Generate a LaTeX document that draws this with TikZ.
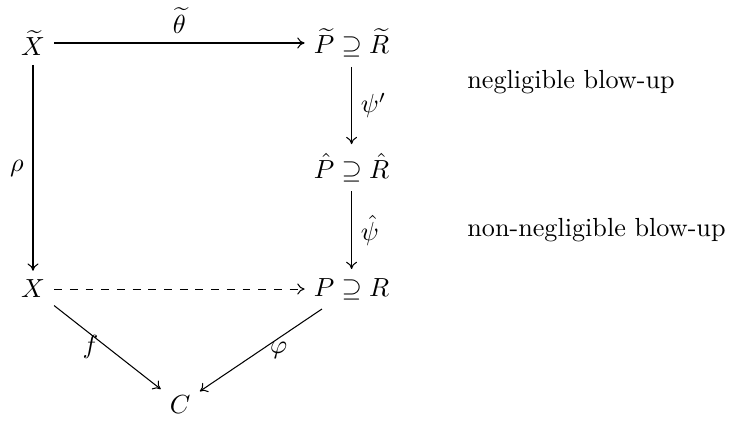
\documentclass[tikz,border=0pt]{standalone}
\usepackage{amsmath}
\usetikzlibrary{arrows.meta}
\begin{document}
\begin{tikzpicture}[
        space/.style={inner sep=3.33pt},
        note/.style={anchor=west, font=\normalsize},
        line/.style={draw, ->, >={To[length=2.8pt, width=4.2pt]}},
        dline/.style={line, dashed}
    ]
        \useasboundingbox (0,0) rectangle (9.80,-5.68);

        \node[space] (xt) at (0.443, -0.577) {$\widetilde{X}$};
        \node[space] (pt) at (4.72, -0.577) {$\widetilde{P} \supseteq \widetilde{R}$};
        \node[space] (ph) at (4.72, -2.25) {$\hat{P} \supseteq \hat{R}$};
        \node[space] (x) at (0.443, -3.88) {$X$};
        \node[space] (p) at (4.72, -3.88) {$P \supseteq R$};
        \node[space] (c) at (2.42, -5.43) {$C$};

        \node[note] (neg) at (6.15, -1.10) {negligible blow-up};
        \node[note] (nonneg) at (6.15, -3.09) {non-negligible blow-up};

        \draw[line] (xt) -- node[above] {$\widetilde{\theta}$} (pt);
        \draw[line] (xt) -- node[left] {$\rho$} (x);
        \draw[line] (pt) -- node[right] {$\psi'$} (ph);
        \draw[line] (ph) -- node[right] {$\hat{\psi}$} (p);
        \draw[dline] (x) -- (p);

        \draw[line] (x) -- node[left] {$f$} (c);
        \draw[line] (p) -- node[right] {$\varphi$} (c);
    \end{tikzpicture}
\end{document}
